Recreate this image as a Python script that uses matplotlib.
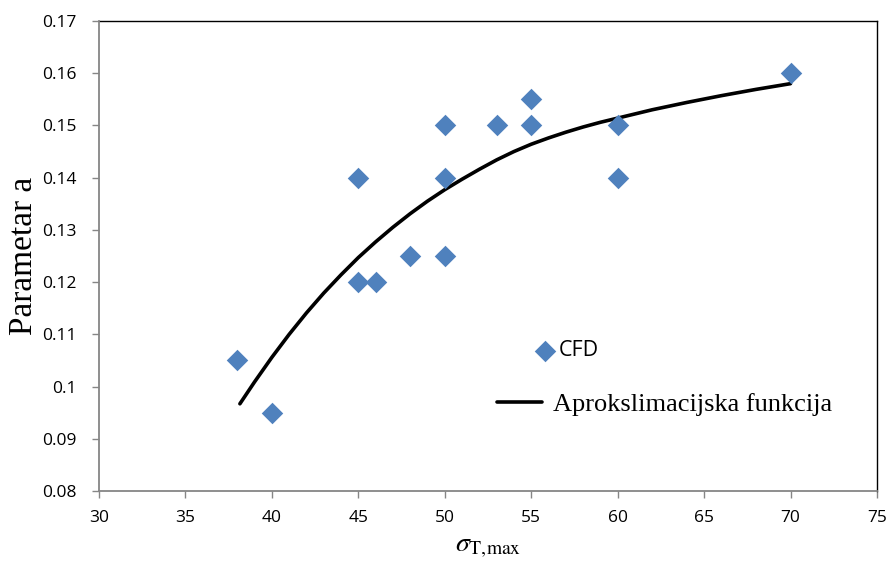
import numpy as np
import matplotlib
matplotlib.use("Agg")
import matplotlib.pyplot as plt

# CFD points
sigma_cfd = [38, 40, 45, 45, 46, 48, 50, 50, 50, 53, 55, 55, 60, 60, 70]
a_cfd = [0.105, 0.095, 0.14, 0.12, 0.12, 0.125, 0.15, 0.14, 0.125,
         0.15, 0.155, 0.15, 0.15, 0.14, 0.16]

# approximation curve
sigma_fit = [38.15, 39, 40, 41, 42, 43, 44, 45, 46, 47, 48, 49, 50, 51, 52,
             53, 54, 55, 56, 57, 58, 59, 60, 62, 64, 66, 68, 70]
a_fit = [0.0967, 0.1009, 0.1056, 0.1100, 0.1141, 0.1179, 0.1214, 0.1247,
         0.1277, 0.1305, 0.1331, 0.1355, 0.1377, 0.1397, 0.1416, 0.1434,
         0.1450, 0.1464, 0.1476, 0.1487, 0.1497, 0.1506, 0.1514, 0.1530,
         0.1544, 0.1557, 0.1569, 0.1580]

x_ticks = [30, 35, 40, 45, 50, 55, 60, 65, 70, 75]
y_ticks = [0.08, 0.09, 0.1, 0.11, 0.12, 0.13, 0.14, 0.15, 0.16, 0.17]
y_ticklabels = ["0.08", "0.09", "0.1", "0.11", "0.12", "0.13", "0.14", "0.15", "0.16", "0.17"]

plt.rcParams["mathtext.fontset"] = "stix"

fig = plt.figure(figsize=(8.87, 5.64), dpi=100)
ax = fig.add_axes([0.1116, 0.1294, 0.8771, 0.8334])

blue = "#4F81BD"
pts = ax.scatter(sigma_cfd, a_cfd, marker="D", s=120, color=blue, linewidths=0, zorder=3)
ln, = ax.plot(sigma_fit, a_fit, color="black", lw=2.6, solid_capstyle="round",
              solid_joinstyle="round", zorder=2)

ax.set_xlim(30, 75)
ax.set_ylim(0.08, 0.17)
ax.set_xticks(x_ticks)
ax.set_yticks(y_ticks)
ax.set_yticklabels(y_ticklabels)

for s in ["top", "right"]:
    ax.spines[s].set_color("black")
    ax.spines[s].set_linewidth(1.0)
for s in ["left", "bottom"]:
    ax.spines[s].set_color("#868686")
    ax.spines[s].set_linewidth(1.3)
    ax.spines[s].set_zorder(4)

ax.tick_params(axis="both", direction="out", length=5, width=1, color="#868686",
               labelsize=12.5)
ax.tick_params(axis="y", pad=11)
ax.tick_params(axis="x", pad=9)
for lab in ax.get_xticklabels() + ax.get_yticklabels():
    lab.set_family("Open Sans")

ax.set_ylabel("Parametar a", family="Liberation Serif", fontsize=24, labelpad=2)
ax.set_xlabel(r"$\sigma_{\mathrm{T,\!max}}$", fontsize=20, labelpad=4)

# two separate legend entries, placed like the original
leg1 = ax.legend([pts], ["CFD"], loc="center left", bbox_to_anchor=(0.559, 0.298),
                 frameon=False, borderpad=0, borderaxespad=0, handlelength=1.0,
                 handletextpad=0.15, prop={"family": "Open Sans", "size": 15.5})
ax.add_artist(leg1)
ax.legend([ln], ["Aprokslimacijska funkcija"], loc="center left",
          bbox_to_anchor=(0.5116, 0.185), frameon=False, borderpad=0,
          borderaxespad=0, handlelength=1.7, handletextpad=0.42,
          prop={"family": "Liberation Serif", "size": 19})

fig.savefig("out.png", dpi=100)
